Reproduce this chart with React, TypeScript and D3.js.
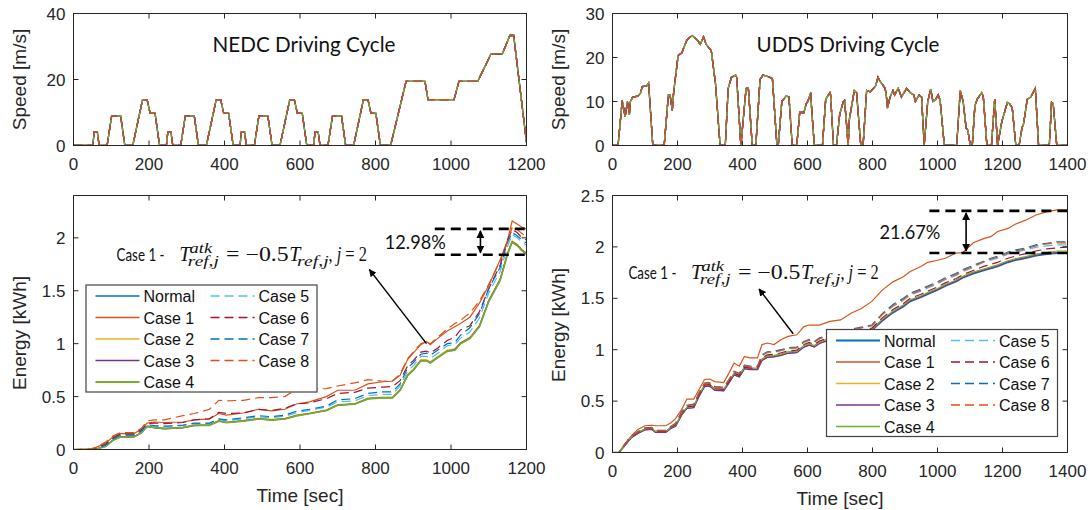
import React from "react";
import * as d3 from "d3";

const SANS = "Liberation Sans, Arimo, Arial, sans-serif";
const CAL = "Lato, Open Sans, sans-serif";
const SERIF = "Liberation Serif, DejaVu Serif, serif";
const INK = "#262626";

// series shared by every panel
const caseNames = ["Normal", "Case 1", "Case 2", "Case 3", "Case 4", "Case 5", "Case 6", "Case 7", "Case 8"];
const caseColors = ["#0072BD", "#D95319", "#EDB120", "#7E2F8E", "#77AC30", "#4DBEEE", "#A2142F", "#0072BD", "#D95319"];
const caseDashed = [false, false, false, false, false, true, true, true, true];

// driving cycles, [time s, speed m/s]
const nedcProfile: [number, number][] = [
  [0, 0], [51, 0], [55, 4.17], [63, 4.17], [68, 0], [89, 0], [101, 8.89], [125, 8.89], [136, 0], [157, 0], [183, 13.89], [195, 13.89], [203, 9.72], [216, 9.72], [228, 0],
  [246, 0], [250, 4.17], [258, 4.17], [263, 0], [284, 0], [296, 8.89], [320, 8.89], [331, 0], [352, 0], [378, 13.89], [390, 13.89], [398, 9.72], [411, 9.72], [423, 0],
  [441, 0], [445, 4.17], [453, 4.17], [458, 0], [479, 0], [491, 8.89], [515, 8.89], [526, 0], [547, 0], [573, 13.89], [585, 13.89], [593, 9.72], [606, 9.72], [618, 0],
  [636, 0], [640, 4.17], [648, 4.17], [653, 0], [674, 0], [686, 8.89], [710, 8.89], [721, 0], [742, 0], [768, 13.89], [780, 13.89], [788, 9.72], [801, 9.72], [813, 0],
  [840, 0], [881, 19.44], [931, 19.44], [939, 13.89], [1008, 13.89], [1021, 19.44], [1071, 19.44], [1106, 27.78], [1136, 27.78], [1156, 33.33], [1166, 33.33], [1200, 1],
];

const uddsProfile: [number, number][] = [
  [0, 0], [17, 0], [30, 10.2], [39, 6.5], [46, 10], [52, 7], [55, 10], [62, 11], [78, 11.2], [87, 12], [91, 13.4], [105, 13.5], [111, 14.2], [124, 0], [159, 0],
  [172, 11.5], [177, 11.5], [184, 8], [188, 12], [202, 20.5], [213, 21], [229, 24], [245, 25], [261, 24], [270, 23], [280, 24.7], [288, 23], [299, 22], [304, 21.5],
  [317, 14], [322, 9], [331, 0], [347, 0], [356, 13], [366, 15.5], [379, 16], [382, 15.5], [395, 0], [411, 13], [418, 13], [430, 0], [441, 0], [454, 15], [463, 16],
  [481, 15.6], [492, 15.2], [506, 0], [510, 0], [521, 10], [535, 11.3], [543, 11], [553, 0], [567, 0], [576, 7.5], [589, 7.5], [596, 9.5], [601, 10], [610, 12],
  [613, 8], [621, 0], [646, 0], [656, 10.5], [669, 12], [671, 11.5], [680, 0], [689, 0], [699, 7], [710, 10], [714, 10.3], [720, 5], [725, 0], [729, 6], [744, 12.5],
  [751, 12], [764, 0], [771, 0], [782, 12.5], [793, 12.2], [809, 13.5], [817, 15.5], [824, 14.5], [839, 13], [843, 11], [846, 8.5], [854, 11], [863, 12.5],
  [868, 11.5], [879, 13], [889, 11], [905, 13], [916, 12], [927, 11.5], [932, 10], [943, 11.5], [951, 11], [959, 0], [970, 10], [979, 12.8], [986, 10], [993, 10.3],
  [1002, 11.5], [1008, 10.3], [1021, 0], [1059, 0], [1070, 12.5], [1079, 10], [1088, 4], [1093, 3.5], [1101, 0], [1107, 0], [1115, 9], [1122, 10.5], [1136, 12],
  [1141, 11], [1152, 0], [1166, 0], [1176, 10.5], [1185, 0], [1198, 5.5], [1204, 7], [1215, 9.8], [1222, 9.5], [1230, 8.5], [1241, 0], [1251, 0], [1260, 4],
  [1265, 5], [1276, 10.5], [1287, 11], [1301, 13], [1311, 0], [1344, 0], [1351, 9.8], [1356, 9.5], [1367, 0], [1400, 0],
];

// NEDC energy (kWh)
const nedcTime = [0, 45, 60, 85, 105, 125, 160, 180, 195, 215, 240, 290, 320, 360, 385, 405, 450, 490, 525, 560, 590, 625, 670, 700, 745, 780, 820, 845, 865, 885, 900, 920, 935, 945, 965, 990, 1010, 1025, 1050, 1075, 1100, 1130, 1150, 1162, 1175, 1188, 1200];
const nedcNormal = [0, 0, 0.005, 0.03, 0.09, 0.12, 0.12, 0.16, 0.22, 0.21, 0.2, 0.21, 0.23, 0.23, 0.27, 0.255, 0.27, 0.29, 0.28, 0.29, 0.32, 0.34, 0.37, 0.42, 0.43, 0.48, 0.49, 0.49, 0.56, 0.7, 0.75, 0.84, 0.84, 0.82, 0.87, 0.93, 0.94, 1.0, 1.05, 1.16, 1.4, 1.6, 1.85, 1.96, 1.93, 1.88, 1.845];
const nedcCase1 = [0, 0.005, 0.02, 0.06, 0.12, 0.15, 0.15, 0.19, 0.25, 0.26, 0.255, 0.26, 0.28, 0.29, 0.34, 0.325, 0.345, 0.38, 0.365, 0.38, 0.43, 0.45, 0.5, 0.56, 0.56, 0.62, 0.64, 0.645, 0.7, 0.85, 0.91, 0.99, 1.02, 0.99, 1.05, 1.12, 1.16, 1.19, 1.25, 1.38, 1.55, 1.79, 1.98, 2.16, 2.13, 2.1, 2.085];
const nedcCase2 = [0, 0, 0.005, 0.03, 0.09, 0.12, 0.12, 0.16, 0.22, 0.21, 0.2, 0.21, 0.23, 0.235, 0.275, 0.26, 0.275, 0.295, 0.285, 0.295, 0.325, 0.345, 0.375, 0.425, 0.435, 0.485, 0.495, 0.495, 0.565, 0.71, 0.76, 0.85, 0.85, 0.83, 0.88, 0.94, 0.95, 1.01, 1.06, 1.17, 1.41, 1.61, 1.86, 1.97, 1.94, 1.89, 1.86];
const nedcCase3 = [0, 0, 0.005, 0.03, 0.09, 0.12, 0.12, 0.16, 0.215, 0.205, 0.195, 0.205, 0.225, 0.23, 0.27, 0.255, 0.27, 0.29, 0.28, 0.29, 0.32, 0.34, 0.37, 0.42, 0.43, 0.48, 0.49, 0.49, 0.56, 0.7, 0.75, 0.84, 0.84, 0.82, 0.87, 0.93, 0.945, 1.005, 1.055, 1.165, 1.405, 1.605, 1.855, 1.965, 1.935, 1.885, 1.85];
const nedcCase4 = [0, 0, 0.004, 0.028, 0.088, 0.118, 0.118, 0.158, 0.218, 0.208, 0.198, 0.208, 0.228, 0.228, 0.268, 0.253, 0.268, 0.288, 0.278, 0.288, 0.318, 0.338, 0.368, 0.418, 0.428, 0.478, 0.488, 0.488, 0.558, 0.698, 0.748, 0.838, 0.838, 0.818, 0.868, 0.928, 0.938, 0.998, 1.048, 1.158, 1.398, 1.598, 1.848, 1.958, 1.928, 1.878, 1.843];
const nedcCase5 = [0, 0, 0.005, 0.035, 0.1, 0.13, 0.13, 0.17, 0.23, 0.22, 0.215, 0.225, 0.245, 0.245, 0.285, 0.27, 0.29, 0.31, 0.3, 0.315, 0.345, 0.37, 0.4, 0.45, 0.46, 0.51, 0.52, 0.52, 0.6, 0.74, 0.79, 0.88, 0.88, 0.86, 0.91, 0.98, 0.99, 1.05, 1.11, 1.24, 1.48, 1.68, 1.92, 2.03, 2.0, 1.96, 1.93];
const nedcCase6 = [0, 0, 0.01, 0.05, 0.11, 0.145, 0.145, 0.185, 0.245, 0.25, 0.245, 0.255, 0.28, 0.29, 0.35, 0.34, 0.345, 0.38, 0.37, 0.39, 0.43, 0.44, 0.48, 0.53, 0.54, 0.58, 0.59, 0.595, 0.65, 0.79, 0.84, 0.92, 0.93, 0.91, 0.96, 1.03, 1.06, 1.13, 1.17, 1.3, 1.52, 1.74, 1.98, 2.08, 2.05, 2.0, 1.98];
const nedcCase7 = [0, 0, 0.006, 0.04, 0.1, 0.135, 0.135, 0.175, 0.235, 0.225, 0.22, 0.23, 0.25, 0.25, 0.29, 0.28, 0.3, 0.32, 0.31, 0.325, 0.36, 0.38, 0.41, 0.47, 0.48, 0.53, 0.545, 0.545, 0.62, 0.77, 0.82, 0.9, 0.91, 0.89, 0.94, 1.0, 1.01, 1.08, 1.15, 1.28, 1.52, 1.72, 1.96, 2.05, 2.02, 1.98, 1.95];
const nedcCase8 = [0, 0.005, 0.02, 0.07, 0.13, 0.16, 0.16, 0.2, 0.27, 0.28, 0.28, 0.32, 0.34, 0.38, 0.465, 0.46, 0.465, 0.49, 0.49, 0.5, 0.57, 0.57, 0.575, 0.6, 0.63, 0.66, 0.645, 0.65, 0.71, 0.86, 0.92, 1.0, 1.02, 1.0, 1.06, 1.14, 1.19, 1.22, 1.29, 1.4, 1.56, 1.78, 1.96, 2.1, 2.08, 2.04, 2.01];

// UDDS energy (kWh)
const uddsTime = [0, 20, 35, 57, 78, 100, 121, 132, 164, 180, 194, 213, 229, 250, 266, 283, 299, 315, 342, 358, 374, 390, 406, 422, 446, 460, 476, 497, 519, 540, 567, 589, 605, 621, 637, 669, 702, 734, 766, 798, 830, 863, 895, 916, 949, 970, 1000, 1024, 1056, 1078, 1110, 1142, 1164, 1185, 1217, 1239, 1271, 1303, 1336, 1368, 1400];
const uddsNormal = [0, 0, 0.06, 0.145, 0.19, 0.225, 0.23, 0.2, 0.2, 0.24, 0.26, 0.37, 0.435, 0.44, 0.55, 0.645, 0.65, 0.61, 0.605, 0.68, 0.76, 0.74, 0.82, 0.81, 0.81, 0.9, 0.93, 0.935, 0.95, 0.97, 0.975, 1.03, 1.05, 1.03, 1.065, 1.1, 1.12, 1.15, 1.17, 1.19, 1.28, 1.36, 1.42, 1.47, 1.51, 1.54, 1.58, 1.62, 1.66, 1.7, 1.74, 1.77, 1.79, 1.81, 1.85, 1.87, 1.89, 1.915, 1.93, 1.94, 1.94];
const uddsCase1 = [0, 0, 0.07, 0.16, 0.225, 0.26, 0.265, 0.26, 0.26, 0.29, 0.33, 0.42, 0.52, 0.52, 0.61, 0.71, 0.715, 0.69, 0.68, 0.77, 0.87, 0.84, 0.935, 0.92, 0.92, 1.05, 1.065, 1.05, 1.1, 1.13, 1.145, 1.225, 1.24, 1.24, 1.24, 1.275, 1.29, 1.355, 1.4, 1.47, 1.58, 1.66, 1.71, 1.76, 1.81, 1.85, 1.87, 1.89, 1.94, 1.945, 2.04, 2.08, 2.1, 2.15, 2.18, 2.22, 2.26, 2.31, 2.34, 2.36, 2.36];
const uddsCase2 = [0, 0, 0.06, 0.145, 0.19, 0.225, 0.23, 0.2, 0.2, 0.24, 0.26, 0.37, 0.435, 0.445, 0.555, 0.65, 0.655, 0.615, 0.61, 0.685, 0.765, 0.745, 0.825, 0.815, 0.815, 0.905, 0.935, 0.94, 0.955, 0.975, 0.98, 1.035, 1.055, 1.035, 1.07, 1.105, 1.125, 1.155, 1.175, 1.195, 1.29, 1.37, 1.43, 1.48, 1.52, 1.55, 1.59, 1.63, 1.67, 1.71, 1.75, 1.78, 1.8, 1.82, 1.86, 1.88, 1.9, 1.925, 1.94, 1.95, 1.95];
const uddsCase3 = [0, 0, 0.055, 0.14, 0.185, 0.22, 0.225, 0.195, 0.195, 0.235, 0.255, 0.365, 0.43, 0.435, 0.545, 0.64, 0.645, 0.605, 0.6, 0.675, 0.755, 0.735, 0.815, 0.805, 0.805, 0.895, 0.925, 0.93, 0.945, 0.965, 0.97, 1.025, 1.045, 1.025, 1.06, 1.095, 1.115, 1.145, 1.165, 1.185, 1.285, 1.365, 1.425, 1.475, 1.515, 1.545, 1.585, 1.625, 1.665, 1.705, 1.745, 1.775, 1.795, 1.815, 1.855, 1.875, 1.895, 1.92, 1.935, 1.945, 1.945];
const uddsCase4 = [0, 0, 0.06, 0.15, 0.195, 0.23, 0.235, 0.205, 0.205, 0.245, 0.265, 0.375, 0.44, 0.45, 0.56, 0.655, 0.66, 0.62, 0.615, 0.69, 0.77, 0.75, 0.83, 0.82, 0.82, 0.91, 0.94, 0.945, 0.96, 0.98, 0.985, 1.04, 1.06, 1.04, 1.075, 1.11, 1.13, 1.16, 1.18, 1.2, 1.295, 1.375, 1.435, 1.485, 1.525, 1.555, 1.595, 1.635, 1.675, 1.715, 1.755, 1.785, 1.805, 1.825, 1.865, 1.885, 1.905, 1.93, 1.945, 1.96, 1.96];
const uddsCase5 = [0, 0, 0.07, 0.155, 0.2, 0.235, 0.24, 0.21, 0.21, 0.25, 0.28, 0.39, 0.455, 0.46, 0.57, 0.665, 0.67, 0.63, 0.625, 0.7, 0.78, 0.76, 0.84, 0.83, 0.83, 0.94, 0.97, 0.975, 0.99, 1.01, 1.015, 1.07, 1.09, 1.07, 1.105, 1.14, 1.16, 1.19, 1.21, 1.23, 1.34, 1.42, 1.48, 1.53, 1.57, 1.6, 1.64, 1.68, 1.72, 1.76, 1.8, 1.85, 1.87, 1.89, 1.93, 1.95, 1.97, 1.995, 2.01, 2.02, 2.02];
const uddsCase6 = [0, 0, 0.065, 0.15, 0.195, 0.23, 0.235, 0.205, 0.205, 0.245, 0.27, 0.38, 0.445, 0.45, 0.56, 0.655, 0.66, 0.62, 0.615, 0.69, 0.77, 0.75, 0.83, 0.82, 0.82, 0.92, 0.95, 0.955, 0.97, 0.99, 0.995, 1.05, 1.07, 1.05, 1.085, 1.12, 1.14, 1.17, 1.19, 1.21, 1.31, 1.39, 1.45, 1.5, 1.54, 1.57, 1.61, 1.65, 1.69, 1.73, 1.77, 1.81, 1.83, 1.85, 1.89, 1.91, 1.935, 1.96, 1.98, 1.99, 2.0];
const uddsCase7 = [0, 0, 0.07, 0.16, 0.205, 0.24, 0.245, 0.215, 0.215, 0.255, 0.285, 0.4, 0.46, 0.47, 0.58, 0.675, 0.68, 0.64, 0.635, 0.71, 0.79, 0.77, 0.85, 0.84, 0.84, 0.95, 0.98, 0.985, 1.0, 1.02, 1.025, 1.08, 1.1, 1.08, 1.115, 1.15, 1.17, 1.2, 1.22, 1.24, 1.35, 1.44, 1.5, 1.55, 1.59, 1.62, 1.66, 1.7, 1.74, 1.78, 1.82, 1.86, 1.89, 1.91, 1.95, 1.97, 1.99, 2.02, 2.035, 2.05, 2.05];
const uddsCase8 = [0, 0, 0.07, 0.155, 0.2, 0.235, 0.24, 0.21, 0.21, 0.25, 0.28, 0.39, 0.455, 0.465, 0.575, 0.67, 0.675, 0.635, 0.63, 0.705, 0.785, 0.765, 0.845, 0.835, 0.835, 0.945, 0.975, 0.98, 0.995, 1.015, 1.02, 1.075, 1.095, 1.075, 1.11, 1.145, 1.165, 1.195, 1.215, 1.235, 1.345, 1.43, 1.49, 1.54, 1.58, 1.61, 1.65, 1.69, 1.73, 1.77, 1.81, 1.855, 1.88, 1.9, 1.94, 1.96, 1.98, 2.01, 2.03, 2.04, 2.04];

const nedcEnergy = [nedcNormal, nedcCase1, nedcCase2, nedcCase3, nedcCase4, nedcCase5, nedcCase6, nedcCase7, nedcCase8];
const uddsEnergy = [uddsNormal, uddsCase1, uddsCase2, uddsCase3, uddsCase4, uddsCase5, uddsCase6, uddsCase7, uddsCase8];

// annotation values
const nedcGap = { t0: 957, lo: 1.84, hi: 2.085, tArrow: 1078, label: "12.98%" };
const uddsGap = { t0: 975, lo: 1.94, hi: 2.35, tArrow: 1088, label: "21.67%" };

type Lin = d3.ScaleLinear<number, number>;

function Frame({ x, y, xTicks, yTicks, xLabel, yLabel, yLabelX, yLabelY }: {
  x: Lin; y: Lin; xTicks: number[]; yTicks: number[]; xLabel?: string; yLabel: string; yLabelX: number; yLabelY?: number;
}) {
  const [x0, x1] = x.range();
  const [yb, yt] = y.range();
  const ly = yLabelY ?? (yt + yb) / 2;
  return (
    <g fontFamily={SANS} fill={INK}>
      {xTicks.map((v) => (
        <g key={"x" + v}>
          <line x1={x(v)} x2={x(v)} y1={yb} y2={yb - 5} stroke={INK} />
          <line x1={x(v)} x2={x(v)} y1={yt} y2={yt + 5} stroke={INK} />
          <text x={x(v)} y={yb + 24} fontSize={17} textAnchor="middle">{v}</text>
        </g>
      ))}
      {yTicks.map((v) => (
        <g key={"y" + v}>
          <line x1={x0} x2={x0 + 5} y1={y(v)} y2={y(v)} stroke={INK} />
          <line x1={x1 - 5} x2={x1} y1={y(v)} y2={y(v)} stroke={INK} />
          <text x={x0 - 8} y={y(v) + 6} fontSize={17} textAnchor="end">{v}</text>
        </g>
      ))}
      <rect x={x0} y={yt} width={x1 - x0} height={yb - yt} fill="none" stroke={INK} strokeWidth={1} />
      {xLabel && (
        <text x={(x0 + x1) / 2} y={yb + 52} fontSize={19} textAnchor="middle">{xLabel}</text>
      )}
      <text transform={`translate(${yLabelX},${ly}) rotate(-90)`} fontSize={19} textAnchor="middle">{yLabel}</text>
    </g>
  );
}

function Clip({ id, x, y }: { id: string; x: Lin; y: Lin }) {
  const [x0, x1] = x.range();
  const [yb, yt] = y.range();
  return (
    <clipPath id={id}>
      <rect x={x0} y={yt} width={x1 - x0} height={yb - yt} />
    </clipPath>
  );
}

function SpeedPanel({ id, x, y, profile, yTicks, title, titleX }: {
  id: string; x: Lin; y: Lin; profile: [number, number][]; yTicks: number[]; title: string; titleX: number;
}) {
  const line = d3.line<[number, number]>().x((d) => x(d[0])).y((d) => y(d[1]));
  const d = line(profile) || "";
  return (
    <g>
      <Clip id={id} x={x} y={y} />
      <g clipPath={`url(#${id})`} fill="none">
        {caseNames.map((n, i) => (
          <path key={n} d={d} stroke={caseColors[i]} strokeWidth={1.3} strokeDasharray={caseDashed[i] ? "9,5" : undefined} />
        ))}
      </g>
      <text x={titleX} y={52} fontFamily={CAL} fontSize={22} textAnchor="middle" textLength={183} lengthAdjust="spacingAndGlyphs" fill="#111">{title}</text>
      <Frame x={x} y={y} xTicks={d3.range(0, x.domain()[1] + 1, 200)} yTicks={yTicks} yLabel="Speed [m/s]" yLabelX={x.range()[0] - 48} />
    </g>
  );
}

function Legend({ x, y, thick }: { x: number; y: number; thick: number }) {
  return (
    <g>
      <rect x={x} y={y} width={231} height={107} fill="white" stroke="#444" strokeWidth={1.2} />
      {caseNames.map((name, i) => {
        const col = i < 5 ? 0 : 1;
        const row = i < 5 ? i : i - 5;
        const lx = x + (col ? 124.5 : 9.5);
        const ly = y + 11 + row * 21.5;
        return (
          <g key={name}>
            <line x1={lx} x2={lx + 44} y1={ly} y2={ly} stroke={caseColors[i]} strokeWidth={i === thick ? 2.2 : 1.3} strokeDasharray={caseDashed[i] ? "9,5" : undefined} />
            <text x={lx + 48} y={ly + 6} fontFamily={SANS} fontSize={16} fill="#111">{name}</text>
          </g>
        );
      })}
    </g>
  );
}

function AttackLabel({ x, y }: { x: number; y: number }) {
  return (
    <g fill="#111" fontFamily={SERIF}>
      <text x={x} y={y} fontFamily={CAL} fontSize={17.5} textLength={48} lengthAdjust="spacingAndGlyphs">Case 1 -</text>
      <text x={x + 62.6} y={y} fontSize={20} fontStyle="italic">T</text>
      <text x={x + 73} y={y - 8.5} fontSize={14} fontStyle="italic" textLength={22.6} lengthAdjust="spacingAndGlyphs">atk</text>
      <text x={x + 71.3} y={y + 5} fontSize={14} fontStyle="italic" textLength={31} lengthAdjust="spacingAndGlyphs">ref,j</text>
      <text x={x + 109.6} y={y} fontSize={20} textLength={62.5} lengthAdjust="spacingAndGlyphs">= −0.5</text>
      <text x={x + 172.6} y={y} fontSize={20} fontStyle="italic">T</text>
      <text x={x + 180.6} y={y + 5} fontSize={14} fontStyle="italic" textLength={31.5} lengthAdjust="spacingAndGlyphs">ref,j</text>
      <text x={x + 212} y={y} fontSize={20} textLength={38.3} lengthAdjust="spacingAndGlyphs">, <tspan fontStyle="italic">j</tspan> = 2</text>
    </g>
  );
}

function EnergyPanel({ id, x, y, time, values, thick, gap, labelAt, arrow, legendAt, yLabelY }: {
  id: string; x: Lin; y: Lin; time: number[]; values: number[][]; thick: number;
  gap: { t0: number; lo: number; hi: number; tArrow: number; label: string };
  labelAt: [number, number]; arrow: [number, number, number, number]; legendAt: [number, number]; yLabelY: number;
}) {
  const line = d3.line<number>().x((_, i) => x(time[i])).y((d) => y(d));
  const [, x1] = x.range();
  const ax = x(gap.tArrow);
  return (
    <g>
      <Clip id={id} x={x} y={y} />
      <g clipPath={`url(#${id})`} fill="none">
        {values.map((v, i) => (
          <path key={i} d={line(v) || ""} stroke={caseColors[i]} strokeWidth={i === thick ? 1.7 : 1.2} strokeDasharray={caseDashed[i] ? "9,5" : undefined} />
        ))}
      </g>
      <g stroke="#000" strokeWidth={2.6} strokeDasharray="10,6">
        <line x1={x(gap.t0)} x2={x1} y1={y(gap.hi)} y2={y(gap.hi)} />
        <line x1={x(gap.t0)} x2={x1} y1={y(gap.lo)} y2={y(gap.lo)} />
      </g>
      <line x1={ax} x2={ax} y1={y(gap.lo) - 2} y2={y(gap.hi) + 2} stroke="#000" strokeWidth={1.6} markerStart="url(#head)" markerEnd="url(#head)" />
      <text x={x(gap.t0) + 11} y={(y(gap.lo) + y(gap.hi)) / 2 + 7} fontFamily={CAL} fontSize={19} textAnchor="end" textLength={61} lengthAdjust="spacingAndGlyphs" fill="#111">{gap.label}</text>
      <AttackLabel x={x(labelAt[0])} y={y(labelAt[1])} />
      <line x1={x(arrow[2])} y1={y(arrow[3])} x2={x(arrow[0])} y2={y(arrow[1])} stroke="#000" strokeWidth={1.5} markerEnd="url(#head)" />
      <Legend x={legendAt[0]} y={legendAt[1]} thick={thick} />
      <Frame x={x} y={y} xTicks={d3.range(0, x.domain()[1] + 1, 200)} yTicks={[0, 0.5, 1, 1.5, 2, 2.5].filter((v) => v <= y.domain()[1])} xLabel="Time [sec]" yLabel="Energy [kWh]" yLabelX={x.range()[0] - 48} yLabelY={yLabelY} />
    </g>
  );
}

export default function App() {
  const xN = d3.scaleLinear().domain([0, 1200]).range([73.5, 526.5]);
  const xU = d3.scaleLinear().domain([0, 1400]).range([612.5, 1067.5]);
  const ySN = d3.scaleLinear().domain([0, 40]).range([145.5, 13.5]);
  const ySU = d3.scaleLinear().domain([0, 30]).range([145.5, 13.5]);
  const yEN = d3.scaleLinear().domain([0, 2.4]).range([449.5, 195.5]);
  const yEU = d3.scaleLinear().domain([0, 2.5]).range([452.5, 195.5]);

  return (
    <svg width={1090} height={510} style={{ position: "absolute", left: 0, top: 0, background: "#fff" }}>
      <defs>
        <marker id="head" viewBox="0 0 10 10" refX="9" refY="5" markerWidth="5" markerHeight="5" orient="auto-start-reverse" markerUnits="strokeWidth">
          <path d="M0,0 L10,5 L0,10 Z" fill="#000" />
        </marker>
      </defs>
      <SpeedPanel id="cN" x={xN} y={ySN} profile={nedcProfile} yTicks={[0, 20, 40]} title="NEDC Driving Cycle" titleX={304} />
      <SpeedPanel id="cU" x={xU} y={ySU} profile={uddsProfile} yTicks={[0, 10, 20, 30]} title="UDDS Driving Cycle" titleX={848} />
      <EnergyPanel id="eN" x={xN} y={yEN} time={nedcTime} values={nedcEnergy} thick={4} gap={nedcGap}
        labelAt={[114, 1.78]} arrow={[784, 1.7, 935, 1.0]} legendAt={[86, 285]} yLabelY={333} />
      <EnergyPanel id="eU" x={xU} y={yEU} time={uddsTime} values={uddsEnergy} thick={0} gap={uddsGap}
        labelAt={[49, 1.686]} arrow={[451, 1.59, 556, 1.155]} legendAt={[826.5, 329.5]} yLabelY={325} />
    </svg>
  );
}
